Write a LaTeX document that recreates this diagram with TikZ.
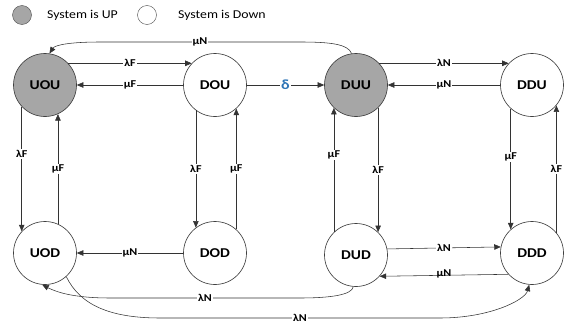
\documentclass[tikz,border=0pt]{standalone}
\usepackage{fontspec}
\setmainfont{Carlito}[FakeStretch=1.15]
\usetikzlibrary{arrows.meta}
\definecolor{upgray}{HTML}{A6A6A6}
\definecolor{deltablue}{HTML}{2E75B6}
\begin{document}
\begin{tikzpicture}[x=1pt,y=-1pt,
  state/.style={circle,draw=black!75,line width=0.65pt,minimum size=63pt,inner sep=0pt,font=\fontsize{13.5}{15}\selectfont\bfseries},
  upstate/.style={state,fill=upgray},
  downstate/.style={state,fill=white},
  arr/.style={draw=black!80,line width=0.55pt,-{Triangle[length=6.5pt,width=5.5pt]}},
  lab/.style={fill=white,inner sep=1pt,font=\fontsize{10.5}{12}\selectfont\bfseries},
  legtext/.style={anchor=west,inner sep=0pt,font=\fontsize{12}{13}\selectfont}]
\useasboundingbox (0,0) rectangle (565,324);
% legend
\node[circle,draw=black!70,fill=upgray,minimum size=19pt,inner sep=0pt] (legup) at (22,15) {};
\node[legtext] (legupt) at (47,15) {System is UP};
\node[circle,draw=black!70,fill=white,minimum size=19pt,inner sep=0pt] (legdown) at (147,15) {};
\node[legtext] (legdownt) at (178,15) {System is Down};
% states
\node[upstate] (UOU) at (45,85) {UOU};
\node[downstate] (DOU) at (215,85) {DOU};
\node[upstate] (DUU) at (356,85) {DUU};
\node[downstate] (DDU) at (532,85) {DDU};
\node[downstate] (UOD) at (45,253) {UOD};
\node[downstate] (DOD) at (215,253) {DOD};
\node[downstate] (DUD) at (356,255) {DUD};
\node[downstate] (DDD) at (532,253) {DDD};
% top row
\draw[arr] (UOU.43) -- node[lab] {λF} (DOU.137);
\draw[arr] (DOU.west) -- node[lab] {μF} (UOU.east);
\draw[arr] (DOU.east) -- node[lab,text=deltablue,font=\fontsize{14}{15}\selectfont\bfseries] {δ} (DUU.west);
\draw[arr] (DUU.43) -- node[lab] {λN} (DDU.137);
\draw[arr] (DDU.west) -- node[lab] {μN} (DUU.east);
% top curve
\draw[arr] (DUU.98) .. controls (348,44) and (330,42) .. (300,42) -- node[lab] {μN} (100,42) .. controls (70,42) and (55,45) .. (UOU.82);
% verticals
\draw[arr] (UOU.223) -- node[lab,pos=0.38] {λF} (UOD.137);
\draw[arr] (UOD.66) -- node[lab] {μF} (UOU.294);
\draw[arr] (DOU.233) -- node[lab] {λF} (DOD.127);
\draw[arr] (DOD.48) -- node[lab] {μF} (DOU.312);
\draw[arr] (DUD.134) -- node[lab,pos=0.62] {μF} (DUU.226);
\draw[arr] (DUU.314) -- node[lab] {λF} (DUD.46);
\draw[arr] (DDU.228) -- node[lab,pos=0.4] {μF} (DDD.132);
\draw[arr] (DDD.40) -- node[lab] {λF} (DDU.320);
% bottom row
\draw[arr] (DOD.west) -- node[lab] {μN} (UOD.east);
\draw[arr] (DUD.11) -- node[lab] {λN} (DDD.169);
\draw[arr] (DDD.222) -- node[lab,above=-4pt,fill=none] {μN} (DUD.318);
% bottom curves
\draw[arr] (DUD.265) .. controls (352,295) and (330,298) .. (300,298) -- node[lab] {λN} (110,298) .. controls (80,298) and (60,294) .. (UOD.265);
\draw[arr] (UOD.312) .. controls (80,305) and (110,318) .. (160,318) -- node[lab,pos=0.5] {λN} (440,318) .. controls (490,318) and (525,300) .. (DDD.265);
\end{tikzpicture}
\end{document}
